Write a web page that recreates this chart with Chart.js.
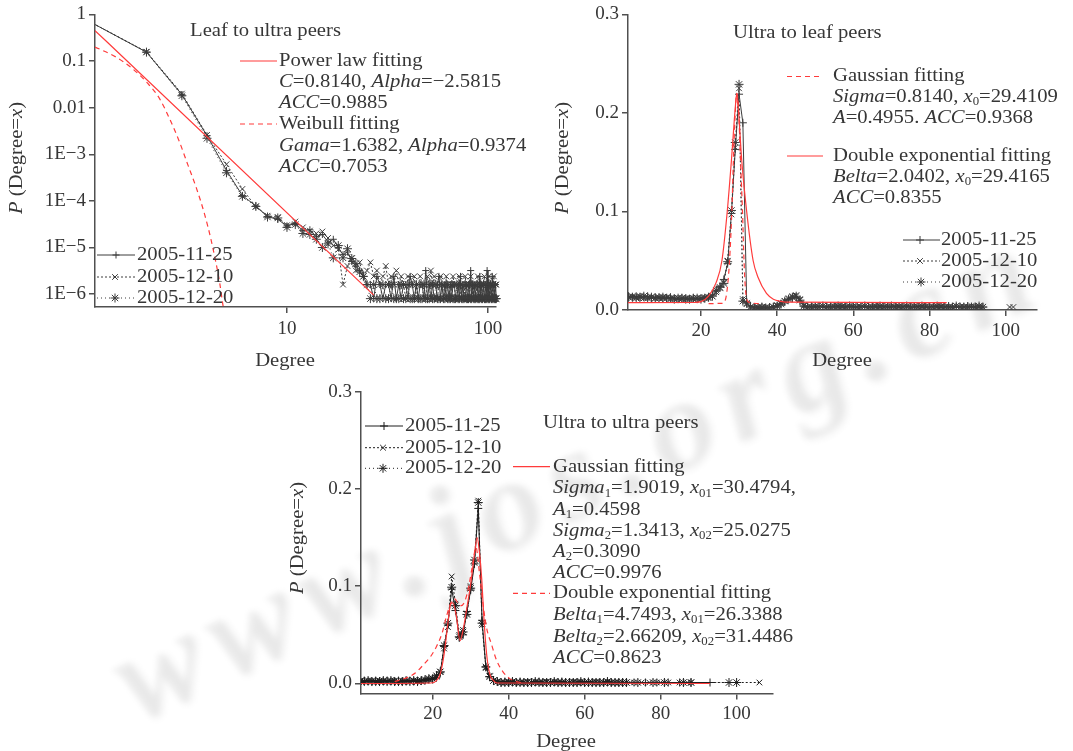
<!DOCTYPE html>
<html>
<head>
<meta charset="utf-8">
<title>Degree distributions of leaf and ultra peers</title>
<script src="https://cdn.jsdelivr.net/npm/chart.js@4/dist/chart.umd.min.js"></script>
<style>
  html, body { margin: 0; padding: 0; background: #fff; }
  #page { position: relative; width: 1073px; height: 751px; overflow: hidden; background: #fff; }
  #page canvas { position: absolute; left: 0; top: 0; }
  #wm {
    position: absolute; left: 575px; top: 470px;
    transform: translate(-50%, -50%) rotate(-25deg);
    font: italic bold 130px "Liberation Serif", serif;
    letter-spacing: 14px; white-space: nowrap;
    color: rgba(0, 0, 0, 0.022);
    text-shadow: 3px 3px 6px rgba(0, 0, 0, 0.07);
    filter: blur(2px);
  }
</style>
</head>
<body>
<div id="page">
  <div id="wm">www.jos.org.cn</div>
  <canvas id="leafToUltra" width="1073" height="751"></canvas>
  <canvas id="ultraToLeaf" width="1073" height="751"></canvas>
  <canvas id="ultraToUltra" width="1073" height="751"></canvas>
</div>
<script>
// ---------------------------------------------------------------
// Data: P(Degree = x) for three crawl dates, plus fitted curves
// ---------------------------------------------------------------
const range = (a, b) => { const r = []; for (let i = a; i <= b; i++) r.push(i); return r; };

// Leaf to ultra peers (log-log), degrees 1..110
const luDegrees = range(1, 110);
const lu_20051125 = [
  0.77, 0.155, 0.019, 0.0025, 4.5e-4, 1.3e-4, 7.8e-5, 4.6e-5, 4.0e-5, 2.9e-5,
  3.3e-5, 2.3e-5, 2.4e-5, 1.7e-5, 1.9e-5, 1.3e-5, 1.5e-5, 1.0e-5, 7e-6, 8e-6,
  5e-6, 4e-6, 3.2e-6, 2.4e-6, 1.6e-6,
  1.6e-6, 8e-7, 2.4e-6, 1.6e-6, 8e-7, 1.6e-6, 1.6e-6, 8e-7, 2.4e-6, 8e-7,
  1.6e-6, 8e-7, 1.6e-6, 1.6e-6, 8e-7, 2.4e-6, 1.6e-6, 8e-7, 1.6e-6, 8e-7,
  1.6e-6, 1.6e-6, 8e-7, 3.2e-6, 8e-7, 1.6e-6, 8e-7, 1.6e-6, 8e-7, 8e-7,
  1.6e-6, 2.4e-6, 8e-7, 1.6e-6, 8e-7, 1.6e-6, 8e-7, 1.6e-6, 8e-7, 1.6e-6,
  8e-7, 1.6e-6, 1.6e-6, 8e-7, 8e-7, 1.6e-6, 8e-7, 2.4e-6, 8e-7, 1.6e-6,
  8e-7, 8e-7, 1.6e-6, 8e-7, 1.6e-6, 8e-7, 3.2e-6, 8e-7, 1.6e-6, 8e-7,
  1.6e-6, 8e-7, 8e-7, 1.6e-6, 8e-7, 2.4e-6, 8e-7, 1.6e-6, 8e-7, 1.6e-6,
  8e-7, 1.6e-6, 8e-7, 3.2e-6, 8e-7, 1.6e-6, 8e-7, 1.6e-6, 8e-7, 2.4e-6,
  8e-7, 1.6e-6, 8e-7, 1.6e-6, 8e-7
];
const lu_20051210 = [
  0.77, 0.158, 0.02, 0.0026, 6.1e-4, 1.8e-4, 7.5e-5, 4.8e-5, 4.5e-5, 3.0e-5,
  3.6e-5, 2.7e-5, 2.3e-5, 2.0e-5, 2.2e-5, 1.6e-5, 1.1e-5, 9e-6, 1.6e-6, 4e-6,
  6e-6, 3.2e-6, 4.8e-6, 2.4e-6, 3.2e-6,
  4.8e-6, 2.4e-6, 3.2e-6, 1.6e-6, 2.4e-6, 4e-6, 1.6e-6, 2.4e-6, 1.6e-6, 3.2e-6,
  1.6e-6, 2.4e-6, 1.6e-6, 8e-7, 2.4e-6, 1.6e-6, 1.6e-6, 2.4e-6, 8e-7, 1.6e-6,
  2.4e-6, 1.6e-6, 1.6e-6, 8e-7, 2.4e-6, 1.6e-6, 3.2e-6, 1.6e-6, 2.4e-6, 1.6e-6,
  8e-7, 1.6e-6, 2.4e-6, 1.6e-6, 1.6e-6, 8e-7, 2.4e-6, 1.6e-6, 1.6e-6, 8e-7,
  1.6e-6, 2.4e-6, 1.6e-6, 8e-7, 1.6e-6, 1.6e-6, 2.4e-6, 8e-7, 1.6e-6, 1.6e-6,
  8e-7, 2.4e-6, 1.6e-6, 1.6e-6, 8e-7, 1.6e-6, 2.4e-6, 1.6e-6, 8e-7, 1.6e-6,
  1.6e-6, 8e-7, 1.6e-6, 2.4e-6, 1.6e-6, 8e-7, 1.6e-6, 1.6e-6, 8e-7, 1.6e-6,
  2.4e-6, 1.6e-6, 8e-7, 1.6e-6, 1.6e-6, 2.4e-6, 8e-7, 1.6e-6, 1.6e-6, 8e-7,
  1.6e-6, 2.4e-6, 8e-7, 1.6e-6, 1.6e-6
];
const lu_20051220 = [
  0.77, 0.155, 0.018, 0.0022, 4e-4, 1.25e-4, 7.6e-5, 4.5e-5, 4.3e-5, 2.7e-5,
  3.1e-5, 2.0e-5, 1.9e-5, 1.5e-5, 1.0e-5, 1.2e-5, 6e-6, 1.1e-5, 6e-6, 9.4e-6,
  5.8e-6, 4.5e-6, 3e-6, 2.4e-6, 1.6e-6,
  8e-7, 1.6e-6, 8e-7, 8e-7, 1.6e-6, 8e-7, 8e-7, 1.6e-6, 8e-7, 8e-7,
  8e-7, 1.6e-6, 8e-7, 8e-7, 1.6e-6, 8e-7, 8e-7, 8e-7, 1.6e-6, 8e-7,
  8e-7, 8e-7, 1.6e-6, 8e-7, 8e-7, 8e-7, 1.6e-6, 8e-7, 8e-7, 1.6e-6,
  8e-7, 8e-7, 8e-7, 1.6e-6, 8e-7, 8e-7, 1.6e-6, 8e-7, 8e-7, 8e-7,
  1.6e-6, 8e-7, 8e-7, 8e-7, 1.6e-6, 8e-7, 8e-7, 1.6e-6, 8e-7, 8e-7,
  8e-7, 1.6e-6, 8e-7, 8e-7, 8e-7, 1.6e-6, 8e-7, 8e-7, 1.6e-6, 8e-7,
  8e-7, 8e-7, 1.6e-6, 8e-7, 8e-7, 8e-7, 1.6e-6, 8e-7, 8e-7, 1.6e-6,
  8e-7, 8e-7, 8e-7, 1.6e-6, 8e-7, 8e-7, 8e-7, 1.6e-6, 8e-7, 8e-7,
  1.6e-6, 8e-7, 8e-7, 8e-7, 8e-7
];
const luPowerX = [1.109, 27.0];
const luPowerY = [0.45, 9.5e-7];
const luWeibullX = [1.109, 1.41, 1.7, 2.03, 2.32, 2.6, 2.91, 3.21, 3.54, 3.89, 4.2, 4.63, 4.8, 4.95];
const luWeibullY = [0.2, 0.122, 0.069, 0.033, 0.0158, 0.0059, 0.0019, 6e-4, 1.9e-4, 5.2e-5, 1.4e-5, 1.7e-6, 5.9e-7, 3e-7];
const luXTicks = [10, 100];
const luXLabels = ['10', '100'];
const luYTicks = [1, 0.1, 0.01, 1e-3, 1e-4, 1e-5, 1e-6];
const luYLabels = ['1', '0.1', '0.01', '1E\u22123', '1E\u22124', '1E\u22125', '1E\u22126'];

// Ultra to leaf peers, degrees 1..102
const ulDegrees = range(1, 102);
const ul_20051125 = [
  0.014, 0.013, 0.014, 0.013, 0.013, 0.014, 0.012, 0.013, 0.013, 0.012,
  0.012, 0.013, 0.012, 0.011, 0.012, 0.012, 0.011, 0.012, 0.011, 0.012,
  0.012, 0.013, 0.015, 0.019, 0.024, 0.031, 0.047, 0.098, 0.163, 0.219,
  0.19, 0.008, 0.004, 0.003, 0.002, 0.003, 0.002, 0.003, 0.003, 0.004,
  0.006, 0.008, 0.011, 0.012, 0.013, 0.009, 0.004, 0.003, 0.004, 0.003,
  0.004, 0.003, 0.003, 0.004, 0.003, 0.004, 0.003, 0.003, 0.004, 0.003,
  0.003, 0.004, 0.003, 0.003, 0.004, 0.003, 0.003, 0.004, 0.003, 0.003,
  0.004, 0.003, 0.003, 0.004, 0.003, 0.003, 0.004, 0.003, 0.003, 0.003,
  0.004, 0.003, 0.003, 0.003, 0.004, 0.003, 0.003, 0.003, 0.003, 0.004,
  0.003, 0.003, 0.003, 0.003, null, null, null, null, null, null,
  null, null
];
const ul_20051210 = [
  0.013, 0.014, 0.013, 0.014, 0.012, 0.013, 0.013, 0.012, 0.013, 0.012,
  0.013, 0.011, 0.012, 0.012, 0.011, 0.012, 0.012, 0.011, 0.012, 0.012,
  0.013, 0.012, 0.014, 0.018, 0.022, 0.028, 0.05, 0.097, 0.165, 0.225,
  0.011, 0.006, 0.003, 0.002, 0.003, 0.002, 0.003, 0.002, 0.003, 0.005,
  0.007, 0.009, 0.012, 0.014, 0.015, 0.011, 0.005, 0.003, 0.003, 0.004,
  0.003, 0.004, 0.003, 0.003, 0.004, 0.003, 0.004, 0.003, 0.003, 0.004,
  0.003, 0.003, 0.004, 0.003, 0.003, 0.004, 0.003, 0.003, 0.004, 0.003,
  0.003, 0.004, 0.003, 0.003, 0.003, 0.004, 0.003, 0.003, 0.004, 0.003,
  0.003, 0.003, 0.004, 0.003, 0.003, 0.003, 0.004, 0.003, 0.003, 0.003,
  0.004, 0.003, 0.003, 0.003, null, null, null, null, null, null,
  0.003, 0.003
];
const ul_20051220 = [
  0.013, 0.013, 0.012, 0.013, 0.014, 0.012, 0.013, 0.012, 0.012, 0.013,
  0.012, 0.012, 0.011, 0.012, 0.012, 0.011, 0.011, 0.012, 0.012, 0.011,
  0.012, 0.013, 0.014, 0.02, 0.023, 0.027, 0.049, 0.101, 0.17, 0.229,
  0.009, 0.007, 0.003, 0.002, 0.002, 0.003, 0.002, 0.002, 0.003, 0.004,
  0.006, 0.009, 0.011, 0.013, 0.014, 0.01, 0.004, 0.003, 0.003, 0.003,
  0.003, 0.004, 0.003, 0.003, 0.003, 0.004, 0.003, 0.003, 0.004, 0.003,
  0.003, 0.003, 0.004, 0.003, 0.003, 0.003, 0.004, 0.003, 0.003, 0.004,
  0.003, 0.003, 0.003, 0.004, 0.003, 0.003, 0.003, 0.004, 0.003, 0.003,
  0.003, 0.004, 0.003, 0.003, 0.003, 0.003, 0.004, 0.003, 0.003, 0.003,
  0.003, 0.003, 0.004, 0.003, null, null, null, null, null, null,
  null, null
];
const ulDoubleExpX = [0.85, 18, 20, 22, 24, 25.5, 26.9, 28, 29, 29.4, 29.8, 30.7, 32, 33.7, 35, 37.2, 39, 41, 43, 84.5];
const ulDoubleExpY = [0.0074, 0.0076, 0.0085, 0.014, 0.028, 0.05, 0.1, 0.152, 0.205, 0.22, 0.205, 0.152, 0.1, 0.05, 0.033, 0.0168, 0.011, 0.0088, 0.0079, 0.0074];
const ulGaussX = [22, 25.5, 26.3, 27, 27.5, 28.1, 28.5, 29, 29.4, 29.9, 30.4, 30.9, 31.3, 31.7, 32.5, 36];
const ulGaussY = [0.0065, 0.0068, 0.009, 0.025, 0.05, 0.1, 0.15, 0.2, 0.22, 0.2, 0.15, 0.1, 0.05, 0.02, 0.008, 0.0065];
const ulXTicks = [20, 40, 60, 80, 100];
const ulXLabels = ['20', '40', '60', '80', '100'];
const ulYTicks = [0, 0.1, 0.2, 0.3];
const ulYLabels = ['0.0', '0.1', '0.2', '0.3'];

// Ultra to ultra peers, degrees 1..106
const uuDegrees = range(1, 106);
const uu_20051125 = [
  0.002, 0.003, 0.002, 0.002, 0.003, 0.002, 0.002, 0.003, 0.002, 0.002,
  0.003, 0.002, 0.002, 0.003, 0.002, 0.003, 0.003, 0.003, 0.004,
  0.004, 0.006, 0.011, 0.038, 0.06, 0.097, 0.075, 0.047, 0.05, 0.074,
  0.096, 0.123, 0.18, 0.065, 0.017, 0.007, 0.003, 0.002,
  0.001, 0.002, 0.001, 0.001, 0.001, 0.002, 0.001, 0.001, 0.001, 0.001,
  0.002, 0.001, 0.001, 0.001, 0.001, 0.001, 0.002, 0.001, 0.001, 0.001,
  0.001, 0.001, 0.001, 0.002, 0.001, 0.001, 0.001, 0.001, 0.001, 0.001,
  0.001, 0.001, 0.001,
  0.001, null, 0.001, null, null, 0.001, null, null, 0.001, null,
  null, 0.001, null, null, 0.001, null, null, 0.001, null, null,
  null, null, 0.001, null, null, null, null, null, null, null,
  null, null, null, null, null, null
];
const uu_20051210 = [
  0.003, 0.002, 0.002, 0.003, 0.002, 0.003, 0.002, 0.002, 0.002, 0.003,
  0.002, 0.003, 0.002, 0.002, 0.003, 0.003, 0.002, 0.003, 0.004,
  0.005, 0.007, 0.012, 0.036, 0.058, 0.11, 0.082, 0.05, 0.055, 0.072,
  0.1, 0.124, 0.188, 0.06, 0.016, 0.008, 0.003, 0.002,
  0.001, 0.001, 0.002, 0.001, 0.001, 0.001, 0.001, 0.002, 0.001, 0.001,
  0.001, 0.001, 0.002, 0.001, 0.001, 0.001, 0.001, 0.001, 0.001, 0.002,
  0.001, 0.001, 0.001, 0.001, 0.001, 0.002, 0.001, 0.001, 0.001, 0.001,
  0.001, 0.001, 0.001,
  0.001, 0.001, 0.001, null, 0.001, null, 0.001, null, 0.001, 0.001,
  null, 0.001, null, null, 0.001, null, 0.001, 0.001, null, null,
  null, null, null, null, null, null, null, null, null, null,
  null, null, null, null, null, 0.001
];
const uu_20051220 = [
  0.002, 0.002, 0.003, 0.002, 0.002, 0.002, 0.003, 0.002, 0.003, 0.002,
  0.002, 0.002, 0.003, 0.002, 0.003, 0.002, 0.003, 0.004, 0.005,
  0.005, 0.008, 0.012, 0.039, 0.062, 0.099, 0.08, 0.048, 0.053, 0.071,
  0.098, 0.127, 0.186, 0.062, 0.017, 0.007, 0.003, 0.002,
  0.001, 0.001, 0.001, 0.002, 0.001, 0.001, 0.001, 0.001, 0.001, 0.002,
  0.001, 0.001, 0.001, 0.001, 0.002, 0.001, 0.001, 0.001, 0.001, 0.001,
  0.001, 0.002, 0.001, 0.001, 0.001, 0.001, 0.001, 0.001, 0.002, 0.001,
  0.001, 0.001, 0.001,
  0.001, null, null, 0.001, null, null, null, 0.001, null, null,
  0.001, null, null, null, null, 0.001, null, 0.001, null, null,
  null, null, null, null, null, null, null, 0.001, null, 0.001,
  null, null, null, null, null, null
];
const uuGaussX = [1.13, 19.5, 21, 22, 23, 24, 24.6, 25.3, 26.2, 27.2, 28, 29, 30, 31, 31.7, 32.3, 32.9, 33.5, 34.2, 35, 36, 37, 93];
const uuGaussY = [0, 0.0005, 0.003, 0.01, 0.03, 0.062, 0.08, 0.083, 0.07, 0.044, 0.055, 0.078, 0.102, 0.133, 0.15, 0.135, 0.108, 0.066, 0.03, 0.01, 0.003, 0.0005, 0];
const uuDoubleExpX = [10, 13.2, 15.5, 17.5, 19.5, 21, 22.5, 23.7, 24.8, 25.8, 26.6, 27.5, 28.5, 29.5, 30.5, 31.4, 32.3, 33.3, 34.2, 35.5, 36.8, 38.5, 40.3, 42, 44];
const uuDoubleExpY = [0.002, 0.006, 0.011, 0.019, 0.028, 0.038, 0.052, 0.07, 0.083, 0.087, 0.083, 0.08, 0.085, 0.1, 0.122, 0.14, 0.114, 0.08, 0.057, 0.04, 0.024, 0.012, 0.005, 0.002, 0.0005];
const uuXTicks = [20, 40, 60, 80, 100];
const uuXLabels = ['20', '40', '60', '80', '100'];
const uuYTicks = [0, 0.1, 0.2, 0.3];
const uuYLabels = ['0.0', '0.1', '0.2', '0.3'];

// ---------------------------------------------------------------
// Styling
// ---------------------------------------------------------------
const FONT = '"Liberation Serif", "Times New Roman", serif';
const TICK_SIZE = 19;
const TEXT_SIZE = 19.5;
const TEXT_STRETCH = 1.06;
const INK = '#363636';
const AXIS = '#505050';
const RED = '#ff3b3b';
const DARK = '#3c3c3c';
const BLACK = '#1e1e1e';

const SERIES_STYLE = {
  '2005-11-25': { dash: [], marker: 'cross' },
  '2005-12-10': { dash: [2, 2], marker: 'crossRot' },
  '2005-12-20': { dash: [1, 3], marker: 'star' }
};

const zip = (xs, ys) => xs.map((x, i) => ({ x, y: ys[i] }));

function seriesDataset(label, xs, ys, color, radius, clip) {
  const st = SERIES_STYLE[label];
  return {
    label, data: zip(xs, ys),
    borderColor: color, borderWidth: 1, borderDash: st.dash,
    pointStyle: st.marker, pointRadius: radius,
    pointBorderColor: color, pointBackgroundColor: color, pointBorderWidth: 1,
    tension: 0, spanGaps: true, fill: false, clip
  };
}

function fitDataset(label, xs, ys, dashed) {
  return {
    label, data: zip(xs, ys),
    borderColor: RED, borderWidth: 1.2, borderDash: dashed ? [5, 4] : [],
    pointRadius: 0, cubicInterpolationMode: 'monotone', fill: false
  };
}

function axis(type, min, max, tickValues, tickLabels, isY, pad) {
  return {
    type, min, max,
    afterBuildTicks: s => { s.ticks = tickValues.map(v => ({ value: v })); },
    afterFit: s => { if (isY) s.width = 70; else s.height = 40; },
    ticks: {
      autoSkip: false, maxRotation: 0, minRotation: 0, padding: pad,
      color: INK, font: { family: FONT, size: TICK_SIZE },
      callback: (v, i) => tickLabels[i]
    },
    grid: { drawOnChartArea: false, drawTicks: true, tickLength: 6, color: AXIS, lineWidth: 1.5 },
    border: { display: true, color: AXIS, width: 1.5 }
  };
}

// Text with *italic* spans and _{subscript} spans
function parseRuns(s) {
  const runs = [];
  let italic = false, buf = '';
  const flush = () => { if (buf) runs.push({ t: buf, italic, sub: false }); buf = ''; };
  for (let i = 0; i < s.length; i++) {
    const c = s[i];
    if (c === '*') { flush(); italic = !italic; continue; }
    if (c === '_' && s[i + 1] === '{') {
      flush();
      const j = s.indexOf('}', i);
      runs.push({ t: s.slice(i + 2, j), italic: false, sub: true });
      i = j;
      continue;
    }
    buf += c;
  }
  flush();
  return runs;
}

function runFont(r, size) {
  const sz = r.sub ? size * 0.62 : size;
  return (r.italic ? 'italic ' : '') + sz + 'px ' + FONT;
}

function drawRich(ctx, item) {
  const size = item.size || TEXT_SIZE;
  const runs = parseRuns(item.text);
  ctx.save();
  ctx.translate(item.x, item.y);
  if (item.rotate) ctx.rotate(item.rotate);
  ctx.scale(TEXT_STRETCH, 1);
  ctx.fillStyle = item.color || INK;
  ctx.textBaseline = 'middle';
  ctx.textAlign = 'left';
  let total = 0;
  runs.forEach(r => { ctx.font = runFont(r, size); r.w = ctx.measureText(r.t).width; total += r.w; });
  let x = item.align === 'center' ? -total / 2 : (item.align === 'right' ? -total : 0);
  runs.forEach(r => {
    ctx.font = runFont(r, size);
    ctx.fillText(r.t, x, r.sub ? size * 0.26 : 0);
    x += r.w;
  });
  ctx.restore();
}

function drawMarker(ctx, style, x, y, r) {
  ctx.beginPath();
  if (style === 'cross' || style === 'star') {
    ctx.moveTo(x - r, y); ctx.lineTo(x + r, y);
    ctx.moveTo(x, y - r); ctx.lineTo(x, y + r);
  }
  if (style === 'crossRot' || style === 'star') {
    const d = r * Math.SQRT1_2;
    ctx.moveTo(x - d, y - d); ctx.lineTo(x + d, y + d);
    ctx.moveTo(x - d, y + d); ctx.lineTo(x + d, y - d);
  }
  ctx.stroke();
}

function drawSample(ctx, ds, s) {
  ctx.save();
  ctx.strokeStyle = ds.borderColor;
  ctx.lineWidth = ds.borderWidth;
  ctx.setLineDash(ds.borderDash || []);
  ctx.beginPath(); ctx.moveTo(s.x1, s.y); ctx.lineTo(s.x2, s.y); ctx.stroke();
  ctx.setLineDash([]);
  if (ds.pointRadius > 0 && s.mx != null) {
    ctx.strokeStyle = ds.pointBorderColor;
    ctx.lineWidth = ds.pointBorderWidth;
    drawMarker(ctx, ds.pointStyle, s.mx, s.y, ds.pointRadius);
  }
  ctx.restore();
}

// Titles, axis titles and keys drawn on top of each panel
function decor(cfg) {
  return {
    id: 'decor',
    afterDraw(chart) {
      const ctx = chart.ctx;
      cfg.samples.forEach(s => drawSample(ctx, chart.data.datasets[s.ds], s));
      cfg.texts.forEach(t => drawRich(ctx, t));
    }
  };
}

function panel(id, datasets, scales, padding, cfg) {
  return new Chart(document.getElementById(id), {
    type: 'line',
    data: { datasets },
    options: {
      responsive: false, animation: false, events: [],
      layout: { padding },
      plugins: { legend: { display: false }, tooltip: { enabled: false } },
      scales
    },
    plugins: [decor(cfg)]
  });
}

Chart.defaults.font.family = FONT;
const VERT = -Math.PI / 2;

// ---------------------------------------------------------------
// Leaf to ultra peers
// ---------------------------------------------------------------
panel('leafToUltra', [
  fitDataset('Power law fitting', luPowerX, luPowerY, false),
  fitDataset('Weibull fitting', luWeibullX, luWeibullY, true),
  seriesDataset('2005-11-25', luDegrees, lu_20051125, DARK, 3.5, { left: 0, right: 6, top: 6, bottom: 6 }),
  seriesDataset('2005-12-10', luDegrees, lu_20051210, DARK, 4, { left: 0, right: 6, top: 6, bottom: 6 }),
  seriesDataset('2005-12-20', luDegrees, lu_20051220, DARK, 4.5, { left: 0, right: 6, top: 6, bottom: 6 })
], {
  x: axis('logarithmic', 1.109, 109.6, luXTicks, luXLabels, false, 5),
  y: axis('logarithmic', 5.29e-7, 1, luYTicks, luYLabels, true, 3)
}, { left: 25, right: 577, top: 12, bottom: 404 }, {
  samples: [
    { ds: 0, x1: 240, x2: 277, y: 61 },
    { ds: 1, x1: 240, x2: 277, y: 124 },
    { ds: 2, x1: 97, x2: 135, y: 255, mx: 116 },
    { ds: 3, x1: 97, x2: 135, y: 277, mx: 115 },
    { ds: 4, x1: 97, x2: 135, y: 298, mx: 115 }
  ],
  texts: [
    { text: 'Leaf to ultra peers', x: 190, y: 31 },
    { text: 'Power law fitting', x: 279, y: 61 },
    { text: '*C*=0.8140, *Alpha*=\u22122.5815', x: 279, y: 82 },
    { text: '*ACC*=0.9885', x: 279, y: 103 },
    { text: 'Weibull fitting', x: 279, y: 124 },
    { text: '*Gama*=1.6382, *Alpha*=0.9374', x: 279, y: 146 },
    { text: '*ACC*=0.7053', x: 279, y: 167 },
    { text: '2005-11-25', x: 137, y: 255 },
    { text: '2005-12-10', x: 137, y: 277 },
    { text: '2005-12-20', x: 137, y: 298 },
    { text: '*P* (Degree=*x*)', x: 17, y: 158, rotate: VERT, align: 'center' },
    { text: 'Degree', x: 285, y: 361, align: 'center' }
  ]
});

// ---------------------------------------------------------------
// Ultra to leaf peers
// ---------------------------------------------------------------
panel('ultraToLeaf', [
  fitDataset('Gaussian fitting', ulGaussX, ulGaussY, true),
  fitDataset('Double exponential fitting', ulDoubleExpX, ulDoubleExpY, false),
  seriesDataset('2005-11-25', ulDegrees, ul_20051125, DARK, 4, undefined),
  seriesDataset('2005-12-10', ulDegrees, ul_20051210, DARK, 4, undefined),
  seriesDataset('2005-12-20', ulDegrees, ul_20051220, DARK, 4.5, undefined)
].map((d, i) => (i >= 2 ? Object.assign(d, { spanGaps: false }) : d)), {
  x: axis('linear', 0.85, 108.2, ulXTicks, ulXLabels, false, 4),
  y: axis('linear', 0, 0.3, ulYTicks, ulYLabels, true, 3)
}, { left: 558, right: 36, top: 13.3, bottom: 401 }, {
  samples: [
    { ds: 0, x1: 787, x2: 823, y: 76.5 },
    { ds: 1, x1: 787, x2: 823, y: 156 },
    { ds: 2, x1: 903, x2: 940, y: 240, mx: 920 },
    { ds: 3, x1: 903, x2: 940, y: 261, mx: 920 },
    { ds: 4, x1: 903, x2: 940, y: 282, mx: 921 }
  ],
  texts: [
    { text: 'Ultra to leaf peers', x: 733, y: 33 },
    { text: 'Gaussian fitting', x: 833, y: 76 },
    { text: '*Sigma*=0.8140, *x*_{0}=29.4109', x: 833, y: 97 },
    { text: '*A*=0.4955. *ACC*=0.9368', x: 833, y: 118 },
    { text: 'Double exponential fitting', x: 833, y: 156 },
    { text: '*Belta*=2.0402, *x*_{0}=29.4165', x: 833, y: 177 },
    { text: '*ACC*=0.8355', x: 833, y: 198 },
    { text: '2005-11-25', x: 941, y: 240 },
    { text: '2005-12-10', x: 941, y: 261 },
    { text: '2005-12-20', x: 941, y: 282 },
    { text: '*P* (Degree=*x*)', x: 563, y: 158, rotate: VERT, align: 'center' },
    { text: 'Degree', x: 842, y: 361, align: 'center' }
  ]
});

// ---------------------------------------------------------------
// Ultra to ultra peers
// ---------------------------------------------------------------
panel('ultraToUltra', [
  fitDataset('Gaussian fitting', uuGaussX, uuGaussY, false),
  fitDataset('Double exponential fitting', uuDoubleExpX, uuDoubleExpY, true),
  seriesDataset('2005-11-25', uuDegrees, uu_20051125, BLACK, 4, undefined),
  seriesDataset('2005-12-10', uuDegrees, uu_20051210, BLACK, 4, undefined),
  seriesDataset('2005-12-20', uuDegrees, uu_20051220, BLACK, 4.5, undefined)
], {
  x: axis('linear', 1.13, 109.5, uuXTicks, uuXLabels, false, 3),
  y: axis('linear', -0.0103, 0.3, uuYTicks, uuYLabels, true, 3)
}, { left: 291, right: 300.3, top: 391.7, bottom: 17.5 }, {
  samples: [
    { ds: 2, x1: 365, x2: 403, y: 426, mx: 384 },
    { ds: 3, x1: 365, x2: 403, y: 447.7, mx: 383 },
    { ds: 4, x1: 365, x2: 403, y: 468.3, mx: 383 },
    { ds: 0, x1: 513, x2: 550, y: 466.7 },
    { ds: 1, x1: 513, x2: 550, y: 593.3 }
  ],
  texts: [
    { text: 'Ultra to ultra peers', x: 543, y: 423 },
    { text: '2005-11-25', x: 405, y: 426 },
    { text: '2005-12-10', x: 405, y: 447.7 },
    { text: '2005-12-20', x: 405, y: 468.3 },
    { text: 'Gaussian fitting', x: 553, y: 466.7 },
    { text: '*Sigma*_{1}=1.9019, *x*_{01}=30.4794,', x: 553, y: 488.3 },
    { text: '*A*_{1}=0.4598', x: 553, y: 509.5 },
    { text: '*Sigma*_{2}=1.3413, *x*_{02}=25.0275', x: 553, y: 530.5 },
    { text: '*A*_{2}=0.3090', x: 553, y: 551.7 },
    { text: '*ACC*=0.9976', x: 553, y: 573 },
    { text: 'Double exponential fitting', x: 553, y: 593.3 },
    { text: '*Belta*_{1}=4.7493, *x*_{01}=26.3388', x: 553, y: 615 },
    { text: '*Belta*_{2}=2.66209, *x*_{02}=31.4486', x: 553, y: 636.5 },
    { text: '*ACC*=0.8623', x: 553, y: 657.5 },
    { text: '*P* (Degree=*x*)', x: 298, y: 538, rotate: VERT, align: 'center' },
    { text: 'Degree', x: 566, y: 742, align: 'center' }
  ]
});
</script>
</body>
</html>
